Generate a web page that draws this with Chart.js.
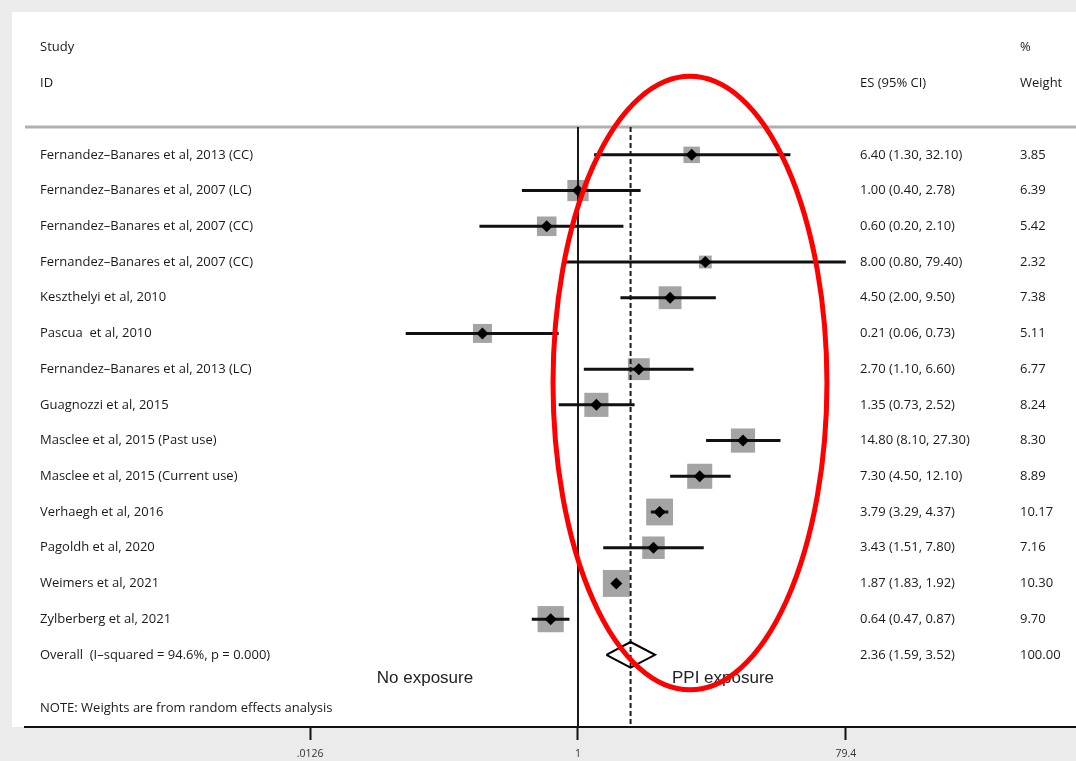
<!DOCTYPE html>
<html>
<head>
<meta charset="utf-8">
<script src="https://cdn.jsdelivr.net/npm/chart.js@4.4.1/dist/chart.umd.min.js"></script>
<style>
  html, body { margin: 0; padding: 0; background: #ebebeb; }
  #wrap { width: 1076px; height: 761px; }
</style>
</head>
<body>
<div id="wrap"><canvas id="forest" width="1076" height="761"></canvas></div>
<script>
// Study data (odds ratios, 95% CI, % weight)
const studies = [
  'Fernandez\u2013Banares et al, 2013 (CC)',
  'Fernandez\u2013Banares et al, 2007 (LC)',
  'Fernandez\u2013Banares et al, 2007 (CC)',
  'Fernandez\u2013Banares et al, 2007 (CC)',
  'Keszthelyi et al, 2010',
  'Pascua  et al, 2010',
  'Fernandez\u2013Banares et al, 2013 (LC)',
  'Guagnozzi et al, 2015',
  'Masclee et al, 2015 (Past use)',
  'Masclee et al, 2015 (Current use)',
  'Verhaegh et al, 2016',
  'Pagoldh et al, 2020',
  'Weimers et al, 2021',
  'Zylberberg et al, 2021'
];
const es = [6.40, 1.00, 0.60, 8.00, 4.50, 0.21, 2.70, 1.35, 14.80, 7.30, 3.79, 3.43, 1.87, 0.64];
const ciLow = [1.30, 0.40, 0.20, 0.80, 2.00, 0.06, 1.10, 0.73, 8.10, 4.50, 3.29, 1.51, 1.83, 0.47];
const ciHigh = [32.10, 2.78, 2.10, 79.40, 9.50, 0.73, 6.60, 2.52, 27.30, 12.10, 4.37, 7.80, 1.92, 0.87];
const weights = [3.85, 6.39, 5.42, 2.32, 7.38, 5.11, 6.77, 8.24, 8.30, 8.89, 10.17, 7.16, 10.30, 9.70];

const overallLabel = 'Overall  (I\u2013squared = 94.6%, p = 0.000)';
const overallEs = 2.36;
const overallLow = 1.59;
const overallHigh = 3.52;
const overallWeight = 100.00;

const xTicks = [0.0126, 1, 79.4];
const xTickLabels = ['.0126', '1', '79.4'];

const overallRow = studies.length;
const fmt = v => v.toFixed(2);
const esText = (e, l, h) => `${fmt(e)} (${fmt(l)}, ${fmt(h)})`;

// CI segments as one line dataset with gaps
const ciData = [];
es.forEach((v, i) => {
  ciData.push({ x: ciLow[i], y: i }, { x: ciHigh[i], y: i }, { x: ciHigh[i], y: null });
});

const headerLineRow = -0.78;
const bottomRow = 16.02;

const backgroundPlugin = {
  id: 'background',
  beforeDraw(chart) {
    const { ctx, width, height, chartArea } = chart;
    ctx.save();
    ctx.fillStyle = '#ebebeb';
    ctx.fillRect(0, 0, width, height);
    ctx.fillStyle = '#ffffff';
    ctx.fillRect(12, 12, width - 12, chartArea.bottom - 12);
    // header separator
    const y = chart.scales.y.getPixelForValue(headerLineRow);
    ctx.fillStyle = '#b0b0b0';
    ctx.fillRect(chartArea.left, y - 1.5, chartArea.right - chartArea.left, 3);
    ctx.restore();
  }
};

const textPlugin = {
  id: 'tableText',
  afterDatasetsDraw(chart) {
    const { ctx } = chart;
    const yS = chart.scales.y;
    ctx.save();
    ctx.fillStyle = '#1a1a1a';
    ctx.textBaseline = 'middle';
    ctx.textAlign = 'left';
    ctx.font = '13px "Open Sans", sans-serif';
    ctx.fillText('Study', 40, yS.getPixelForValue(-3));
    ctx.fillText('ID', 40, yS.getPixelForValue(-2));
    ctx.fillText('ES (95% CI)', 860, yS.getPixelForValue(-2));
    ctx.fillText('%', 1020, yS.getPixelForValue(-3));
    ctx.fillText('Weight', 1020, yS.getPixelForValue(-2));
    studies.forEach((s, i) => {
      const y = yS.getPixelForValue(i);
      ctx.fillText(s, 40, y);
      ctx.fillText(esText(es[i], ciLow[i], ciHigh[i]), 860, y);
      ctx.fillText(fmt(weights[i]), 1020, y);
    });
    const oy = yS.getPixelForValue(overallRow);
    ctx.fillText(overallLabel, 40, oy);
    ctx.fillText(esText(overallEs, overallLow, overallHigh), 860, oy);
    ctx.fillText(fmt(overallWeight), 1020, oy);
    ctx.fillText('NOTE: Weights are from random effects analysis', 40, yS.getPixelForValue(15.5));

    ctx.font = '17px "Liberation Sans", Arial, sans-serif';
    ctx.fillStyle = '#222';
    ctx.textAlign = 'center';
    ctx.fillText('No exposure', 425, yS.getPixelForValue(14.65));
    ctx.fillText('PPI exposure', 723, yS.getPixelForValue(14.65));
    ctx.restore();
  }
};

// red highlight ellipse, placed on the data scales
const ellipsePlugin = {
  id: 'ellipse',
  afterDraw(chart) {
    const { ctx } = chart;
    const xS = chart.scales.x, yS = chart.scales.y;
    const x1 = xS.getPixelForValue(0.665), x2 = xS.getPixelForValue(58.3);
    const y1 = yS.getPixelForValue(-2.2), y2 = yS.getPixelForValue(14.98);
    ctx.save();
    ctx.strokeStyle = '#ff0000';
    ctx.lineWidth = 5;
    ctx.beginPath();
    ctx.ellipse((x1 + x2) / 2, (y1 + y2) / 2, (x2 - x1) / 2, (y2 - y1) / 2, 0, 0, Math.PI * 2);
    ctx.stroke();
    ctx.restore();
  }
};

new Chart(document.getElementById('forest'), {
  type: 'scatter',
  plugins: [backgroundPlugin, textPlugin, ellipsePlugin],
  data: {
    datasets: [
      {
        label: 'ES',
        data: es.map((v, i) => ({ x: v, y: i })),
        pointStyle: 'rectRot',
        pointRadius: 6,
        backgroundColor: '#000',
        borderWidth: 0,
        order: 0
      },
      {
        label: 'CI',
        data: ciData,
        showLine: true,
        spanGaps: false,
        borderColor: '#111',
        borderWidth: 3,
        pointRadius: 0,
        order: 1
      },
      {
        label: 'Overall',
        data: [
          { x: overallLow, y: overallRow },
          { x: overallEs, y: overallRow - 0.36 },
          { x: overallHigh, y: overallRow },
          { x: overallEs, y: overallRow + 0.36 },
          { x: overallLow, y: overallRow }
        ],
        showLine: true,
        borderColor: '#000',
        borderWidth: 2,
        pointRadius: 0,
        order: 1
      },
      {
        label: 'Weight',
        data: es.map((v, i) => ({ x: v, y: i })),
        pointStyle: 'rect',
        pointRadius: weights.map(w => Math.sqrt(w) * 8.4 / Math.SQRT2),
        backgroundColor: '#a4a4a4',
        borderWidth: 0,
        order: 3
      },
      {
        label: 'Null line',
        data: [{ x: 1, y: headerLineRow }, { x: 1, y: bottomRow }],
        showLine: true,
        borderColor: '#1a1a1a',
        borderWidth: 2,
        pointRadius: 0,
        order: 2
      },
      {
        label: 'Overall line',
        data: [{ x: overallEs, y: headerLineRow }, { x: overallEs, y: bottomRow }],
        showLine: true,
        borderColor: '#1a1a1a',
        borderWidth: 2,
        borderDash: [5, 3],
        pointRadius: 0,
        order: 2
      }
    ]
  },
  options: {
    responsive: false,
    animation: false,
    devicePixelRatio: 1,
    layout: { autoPadding: false, padding: { left: 25, top: 12, right: 0, bottom: 0 } },
    scales: {
      x: {
        type: 'logarithmic',
        min: Math.pow(10, -3.922),
        max: Math.pow(10, 3.532),
        afterBuildTicks: s => { s.ticks = xTicks.map(v => ({ value: v })); },
        afterFit: s => { s.height = 34; },
        ticks: {
          autoSkip: false,
          maxRotation: 0,
          padding: 8,
          color: '#333',
          font: { family: '"Open Sans", sans-serif', size: 10.5 },
          callback: (v, i) => xTickLabels[i]
        },
        grid: { drawOnChartArea: false, drawTicks: true, tickLength: 13, tickColor: '#111', tickWidth: 2 },
        border: { color: '#111', width: 2 }
      },
      y: {
        type: 'linear',
        reverse: true,
        min: -4,
        max: bottomRow,
        display: false
      }
    },
    plugins: {
      legend: { display: false },
      tooltip: { enabled: false }
    }
  }
});
</script>
</body>
</html>
